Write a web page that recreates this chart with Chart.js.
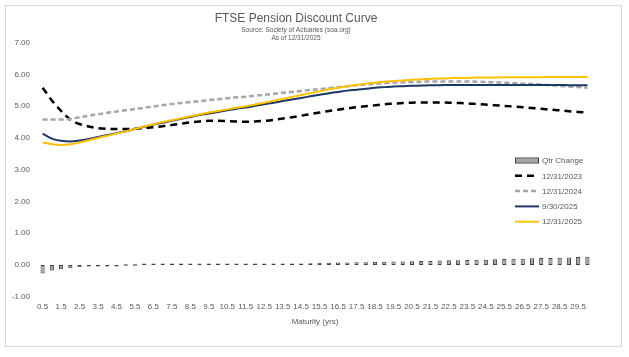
<!DOCTYPE html>
<html>
<head>
<meta charset="utf-8">
<script src="https://cdn.jsdelivr.net/npm/chart.js@4.4.1/dist/chart.umd.min.js"></script>
<style>
  html, body { margin: 0; padding: 0; background: #ffffff; }
  #wrap { position: relative; width: 629px; height: 357px; }
</style>
</head>
<body>
<div id="wrap"><canvas id="c" width="629" height="357"></canvas></div>
<script>
// ---- Data ----
const maturities = ["0.5","1","1.5","2","2.5","3","3.5","4","4.5","5",
  "5.5","6","6.5","7","7.5","8","8.5","9","9.5","10",
  "10.5","11","11.5","12","12.5","13","13.5","14","14.5","15",
  "15.5","16","16.5","17","17.5","18","18.5","19","19.5","20",
  "20.5","21","21.5","22","22.5","23","23.5","24","24.5","25",
  "25.5","26","26.5","27","27.5","28","28.5","29","29.5","30"];

const qtrChange = [-0.27,-0.17,-0.13,-0.10,-0.07,-0.05,-0.03,-0.02,-0.01,0.00,
  0.00,0.01,0.01,0.01,0.01,0.01,0.01,0.01,0.01,0.01,
  0.01,0.01,0.02,0.02,0.03,0.04,0.04,0.05,0.05,0.06,
  0.07,0.07,0.08,0.08,0.09,0.09,0.10,0.10,0.11,0.11,
  0.12,0.13,0.13,0.14,0.15,0.15,0.16,0.17,0.17,0.18,
  0.19,0.20,0.20,0.21,0.22,0.22,0.23,0.24,0.25,0.26];

const curve2023 = [5.58,5.18,4.85,4.58,4.44,4.36,4.31,4.29,4.28,4.28,
  4.29,4.31,4.34,4.37,4.41,4.45,4.49,4.52,4.54,4.54,
  4.53,4.52,4.51,4.52,4.54,4.57,4.61,4.65,4.70,4.75,
  4.80,4.85,4.89,4.93,4.97,5.00,5.03,5.06,5.08,5.10,
  5.11,5.12,5.12,5.12,5.11,5.10,5.09,5.07,5.05,5.03,
  5.01,4.99,4.97,4.94,4.92,4.89,4.87,4.84,4.82,4.80];

const curve2024 = [4.58,4.58,4.58,4.60,4.65,4.70,4.75,4.79,4.83,4.87,
  4.91,4.95,4.99,5.03,5.07,5.10,5.13,5.16,5.19,5.22,
  5.25,5.28,5.30,5.33,5.36,5.39,5.42,5.45,5.48,5.51,
  5.54,5.57,5.60,5.63,5.66,5.68,5.70,5.72,5.74,5.75,
  5.76,5.77,5.78,5.78,5.78,5.78,5.78,5.77,5.76,5.75,
  5.74,5.73,5.71,5.70,5.68,5.66,5.64,5.62,5.60,5.58];

const curve2025Q3 = [4.14,3.98,3.91,3.89,3.92,3.97,4.03,4.09,4.15,4.21,
  4.28,4.35,4.42,4.48,4.54,4.60,4.66,4.72,4.77,4.82,
  4.87,4.92,4.96,5.01,5.06,5.11,5.16,5.21,5.26,5.31,
  5.36,5.41,5.45,5.49,5.52,5.55,5.58,5.60,5.62,5.63,
  5.64,5.65,5.66,5.66,5.67,5.67,5.67,5.67,5.67,5.67,
  5.67,5.67,5.67,5.67,5.67,5.67,5.67,5.66,5.66,5.66];

const curve2025 = [3.86,3.80,3.78,3.80,3.86,3.93,4.00,4.07,4.14,4.21,
  4.28,4.36,4.43,4.50,4.56,4.62,4.68,4.74,4.80,4.85,
  4.90,4.95,5.00,5.05,5.11,5.17,5.23,5.29,5.35,5.41,
  5.47,5.53,5.58,5.63,5.67,5.71,5.74,5.77,5.79,5.81,
  5.83,5.85,5.86,5.87,5.88,5.89,5.89,5.90,5.90,5.90,
  5.91,5.91,5.91,5.91,5.91,5.92,5.92,5.92,5.92,5.92];

const yMin = -1, yMax = 7, yStep = 1;

const FONT = "'Liberation Sans', Arial, sans-serif";
const TXT = "#595959";

// frame around chart
const framePlugin = {
  id: 'frame',
  beforeDraw(chart) {
    const ctx = chart.ctx;
    ctx.save();
    ctx.fillStyle = '#ffffff';
    ctx.fillRect(0, 0, chart.width, chart.height);
    ctx.strokeStyle = '#D9D9D9';
    ctx.lineWidth = 1;
    ctx.strokeRect(5.5, 5.5, 616, 341);
    ctx.restore();
  }
};

// legend inside the plot area, bottom right
const insideLegend = {
  id: 'insideLegend',
  afterDraw(chart) {
    const ctx = chart.ctx;
    const area = chart.chartArea;
    const x0 = area.right - 77;
    const y0 = 160.5;
    const dy = 15.3;
    ctx.save();
    ctx.font = "8px " + FONT;
    ctx.textBaseline = 'middle';
    ctx.textAlign = 'left';
    chart.data.datasets.forEach((ds, i) => {
      const y = y0 + i * dy;
      if (ds.type === 'bar' || (!ds.type)) {
        ctx.fillStyle = ds.backgroundColor;
        ctx.strokeStyle = ds.borderColor;
        ctx.lineWidth = 1;
        ctx.fillRect(x0, y - 2, 24, 4);
        ctx.strokeRect(x0 + 0.5, y - 2.5, 23, 5);
      } else {
        ctx.strokeStyle = ds.borderColor;
        ctx.lineWidth = ds.borderWidth;
        ctx.setLineDash(ds.borderDash || []);
        ctx.beginPath();
        ctx.moveTo(x0, y);
        ctx.lineTo(x0 + 24, y);
        ctx.stroke();
        ctx.setLineDash([]);
      }
      ctx.fillStyle = TXT;
      ctx.fillText(ds.label, x0 + 27, y + 0.5);
    });
    ctx.restore();
  }
};

const lineBase = {
  type: 'line',
  pointRadius: 0,
  pointHoverRadius: 0,
  fill: false,
  cubicInterpolationMode: 'monotone',
  borderCapStyle: 'butt'
};

new Chart(document.getElementById('c'), {
  type: 'bar',
  data: {
    labels: maturities,
    datasets: [
      {
        type: 'bar',
        label: 'Qtr Change',
        data: qtrChange,
        backgroundColor: '#A6A6A6',
        borderColor: '#404040',
        borderWidth: 1,
        borderSkipped: false,
        minBarLength: 1.5,
        categoryPercentage: 0.5,
        barPercentage: 0.9,
        order: 5
      },
      Object.assign({}, lineBase, {
        label: '12/31/2023', data: curve2023,
        borderColor: '#000000', borderWidth: 2.5, borderDash: [7, 5], order: 4
      }),
      Object.assign({}, lineBase, {
        label: '12/31/2024', data: curve2024,
        borderColor: '#A6A6A6', borderWidth: 2.5, borderDash: [5, 3], order: 3
      }),
      Object.assign({}, lineBase, {
        label: '9/30/2025', data: curve2025Q3,
        borderColor: '#1F3864', borderWidth: 2, order: 2
      }),
      Object.assign({}, lineBase, {
        label: '12/31/2025', data: curve2025,
        borderColor: '#FFC000', borderWidth: 2, order: 1
      })
    ]
  },
  options: {
    responsive: false,
    animation: false,
    devicePixelRatio: 1,
    layout: { padding: { left: 0, right: 37, top: 0, bottom: 30 } },
    plugins: {
      legend: { display: false },
      tooltip: { enabled: false },
      title: {
        display: true,
        text: 'FTSE Pension Discount Curve',
        color: TXT,
        font: { family: FONT, size: 12, weight: 'normal' },
        padding: { top: 11, bottom: 1 }
      },
      subtitle: {
        display: true,
        text: ['Source: Society of Actuaries (soa.org)', 'As of 12/31/2025'],
        color: TXT,
        font: { family: FONT, size: 6.5, weight: 'normal', lineHeight: 1.25 },
        padding: { top: 0, bottom: 0 }
      }
    },
    scales: {
      x: {
        type: 'category',
        offset: true,
        grid: { display: false, drawTicks: false },
        border: { display: false },
        ticks: {
          color: TXT,
          font: { family: FONT, size: 8 },
          autoSkip: false,
          maxRotation: 0,
          minRotation: 0,
          padding: 5,
          callback: function (value, index) {
            return index % 2 === 0 ? this.getLabelForValue(value) : '';
          }
        },
        title: {
          display: true,
          text: 'Maturity (yrs)',
          color: TXT,
          font: { family: FONT, size: 8 },
          padding: { top: 1, bottom: 0 }
        }
      },
      y: {
        min: yMin,
        max: yMax,
        grid: { display: false, drawTicks: false },
        border: { display: false },
        ticks: {
          stepSize: yStep,
          color: TXT,
          font: { family: FONT, size: 8 },
          padding: 8,
          callback: (v) => Number(v).toFixed(2)
        },
        afterFit(scale) { scale.width = 38; }
      }
    }
  },
  plugins: [framePlugin, insideLegend]
});
</script>
</body>
</html>
